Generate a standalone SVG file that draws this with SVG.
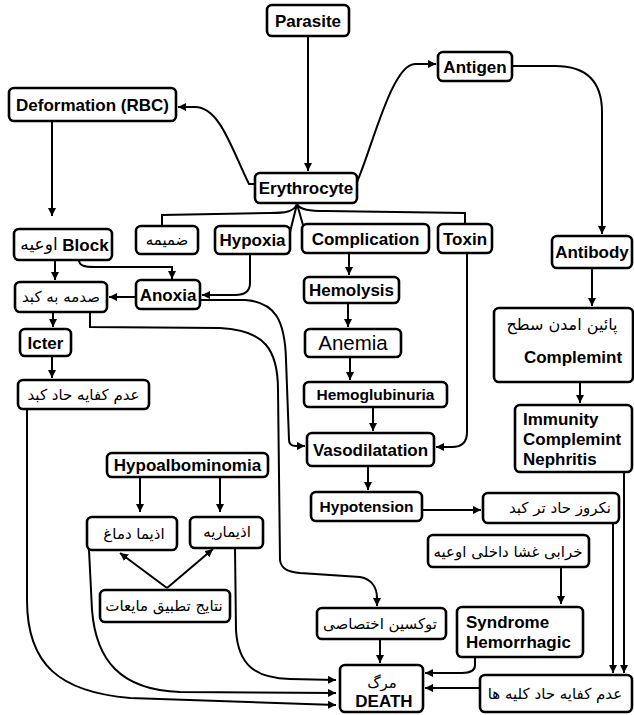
<svg xmlns="http://www.w3.org/2000/svg" width="634" height="715" viewBox="0 0 634 715">
<style>
rect.b{fill:#fff;stroke:#000;stroke-width:2.6}
.t{font-family:"Liberation Sans",Arial,sans-serif;font-weight:bold;font-size:17px;fill:#000;text-anchor:middle}
.s{font-size:15.5px}
.l{text-anchor:start}
.fa{font-family:"DejaVu Sans","Noto Sans",sans-serif;font-size:15px;fill:#000;text-anchor:middle}
.c path{fill:none;stroke:#000;stroke-width:2}
</style>
<defs>
<marker id="a" markerUnits="userSpaceOnUse" markerWidth="9" markerHeight="9" refX="8" refY="4" orient="auto">
<path d="M0,0 L8,4 L0,8 z" fill="#000"/>
</marker>
</defs>
<rect width="634" height="715" fill="#fff"/>
<g class="c">
<path d="M308,36 L308,171" marker-end="url(#a)"/>
<path d="M255,184 L249,184 C232,150 220,107 195,107 L178,107" marker-end="url(#a)"/>
<path d="M357,182 C372,148 392,64 415,64 L436,64" marker-end="url(#a)"/>
<path d="M512,66 L555,66 C590,66 602,85 602,112 L602,234" marker-end="url(#a)"/>
<path d="M52,121 L52,216" marker-end="url(#a)"/>
<path d="M297,204 C294,212 285,213 270,213 L162,215 L162,226"/>
<path d="M297,204 L289,236"/>
<path d="M297,204 L305,232"/>
<path d="M297,204 C300,210 310,211 325,211 L465,213 L465,224"/>
<path d="M55,260 L55,280" marker-end="url(#a)"/>
<path d="M79,260 C79,266 85,267 95,267 L172,267 L172,279" marker-end="url(#a)"/>
<path d="M250,253 L250,283 C250,292 244,295 235,295 L202,295" marker-end="url(#a)"/>
<path d="M136,297 L109,297" marker-end="url(#a)"/>
<path d="M200,300 L245,300 C275,302 285,320 286,360 L289,440 Q289,446 296,446 L305,446" marker-end="url(#a)"/>
<path d="M53,312 L53,327" marker-end="url(#a)"/>
<path d="M90,312 L90,327 L220,328 C265,330 278,350 278,390 L280,560 C281,570 290,572 300,573 L360,577 C372,579 377,588 377,598 L377,606" marker-end="url(#a)"/>
<path d="M52,356 L52,378" marker-end="url(#a)"/>
<path d="M27,409 L27,600 C27,665 60,692 130,698 L336,705" marker-end="url(#a)"/>
<path d="M89,550 L92,610 C96,660 120,690 180,692 L336,693" marker-end="url(#a)"/>
<path d="M235,548 L236,630 C238,665 255,678 290,679 L336,680" marker-end="url(#a)"/>
<path d="M140,477 L140,512" marker-end="url(#a)"/>
<path d="M220,477 L220,512" marker-end="url(#a)"/>
<path d="M167,588 L120,553" marker-end="url(#a)"/>
<path d="M167,588 L213,549" marker-end="url(#a)"/>
<path d="M349,253 L349,275" marker-end="url(#a)"/>
<path d="M348,303 L348,327" marker-end="url(#a)"/>
<path d="M350,357 L350,380" marker-end="url(#a)"/>
<path d="M373,407 L373,431" marker-end="url(#a)"/>
<path d="M467,253 L467,432 C467,442 462,447 452,447 L436,447" marker-end="url(#a)"/>
<path d="M368,466 L368,490" marker-end="url(#a)"/>
<path d="M422,510 L481,510" marker-end="url(#a)"/>
<path d="M613,523 L613,673" marker-end="url(#a)"/>
<path d="M624,472 L624,673" marker-end="url(#a)"/>
<path d="M561,567 L561,604" marker-end="url(#a)"/>
<path d="M475,657 L475,665 C475,671 470,673 462,673 L425,673" marker-end="url(#a)"/>
<path d="M480,688 L425,688" marker-end="url(#a)"/>
<path d="M380,639 L380,663" marker-end="url(#a)"/>
<path d="M592,268 L592,306" marker-end="url(#a)"/>
<path d="M580,382 L580,403" marker-end="url(#a)"/>
</g>
<g id="parasite"><rect class="b" x="267" y="5" width="82" height="31" rx="5"/><text class="t" x="308" y="27">Parasite</text></g>
<g id="deformation"><rect class="b" x="9" y="88" width="167" height="33" rx="5"/><text class="t" x="92.5" y="110.5">Deformation (RBC)</text></g>
<g id="erythrocyte"><rect class="b" x="255" y="173" width="102" height="30" rx="5"/><text class="t" x="306" y="194">Erythrocyte</text></g>
<g id="antigen"><rect class="b" x="438" y="52" width="74" height="29" rx="5"/><text class="t" x="475" y="72.5">Antigen</text></g>
<g id="antibody"><rect class="b" x="552" y="236" width="80" height="32" rx="5"/><text class="t" x="592" y="258">Antibody</text></g>
<g id="zamime"><rect class="b" x="136" y="226" width="62" height="28" rx="5"/><text class="fa" x="167" y="245">ضمیمه</text></g>
<g id="hypoxia"><rect class="b" x="215" y="226" width="75" height="28" rx="5"/><text class="t" x="252.5" y="246">Hypoxia</text></g>
<g id="complication"><rect class="b" x="302" y="224" width="127" height="29" rx="5"/><text class="t" x="365.5" y="244.5">Complication</text></g>
<g id="toxin"><rect class="b" x="438" y="224" width="54" height="29" rx="5"/><text class="t" x="465" y="244.5">Toxin</text></g>
<g id="block"><rect class="b" x="14" y="229" width="98" height="31" rx="5"/><text class="fa" x="39" y="250" style="font-size:17px">اوعیه</text><text class="t" x="85.5" y="251">Block</text></g>
<g id="sadame"><rect class="b" x="15" y="282" width="92" height="30" rx="5"/><text class="fa" x="61" y="302">صدمه به کبد</text></g>
<g id="anoxia"><rect class="b" x="136" y="280" width="64" height="29" rx="5"/><text class="t" x="168" y="300.5">Anoxia</text></g>
<g id="icter"><rect class="b" x="20" y="329" width="51" height="27" rx="5"/><text class="t" x="45.5" y="348.5">Icter</text></g>
<g id="liverfail"><rect class="b" x="18" y="380" width="131" height="29" rx="5"/><text class="fa" x="83.5" y="400">عدم کفایه حاد کبد</text></g>
<g id="hemolysis"><rect class="b" x="304" y="277" width="95" height="26" rx="5"/><text class="t" x="351.5" y="296">Hemolysis</text></g>
<g id="anemia"><rect class="b" x="305" y="329" width="96" height="28" rx="5"/><text class="t" x="353" y="350" style="font-weight:normal;font-size:20.5px">Anemia</text></g>
<g id="hemoglubinuria"><rect class="b" x="304" y="382" width="143" height="25" rx="5"/><text class="t s" x="375.5" y="400">Hemoglubinuria</text></g>
<g id="vasodilatation"><rect class="b" x="307" y="433" width="127" height="33" rx="5"/><text class="t" x="370.5" y="455.5">Vasodilatation</text></g>
<g id="complement"><rect class="b" x="494" y="308" width="139" height="74" rx="5"/><text class="fa" x="562" y="330" style="font-size:16px">پائین امدن سطح</text><text class="t" x="573" y="363">Complemint</text></g>
<g id="immunity"><rect class="b" x="515" y="405" width="117" height="67" rx="5"/><text class="t l" x="523" y="425">Immunity</text><text class="t l" x="523" y="445">Complemint</text><text class="t l" x="523" y="465">Nephritis</text></g>
<g id="hypotension"><rect class="b" x="311" y="492" width="111" height="29" rx="5"/><text class="t s" x="366.5" y="512">Hypotension</text></g>
<g id="necrosis"><rect class="b" x="483" y="493" width="136" height="30" rx="5"/><text class="fa" x="560" y="513">نکروز حاد تر کبد</text></g>
<g id="endothelium"><rect class="b" x="428" y="535" width="161" height="32" rx="5"/><text class="fa" x="508" y="557">خرابی غشا داخلی اوعیه</text></g>
<g id="syndrome"><rect class="b" x="457" y="607" width="126" height="50" rx="5"/><text class="t l" x="466" y="628">Syndrome</text><text class="t l" x="466" y="648">Hemorrhagic</text></g>
<g id="toxinspec"><rect class="b" x="317" y="608" width="129" height="31" rx="5"/><text class="fa" x="380" y="629">توکسین اختصاصی</text></g>
<g id="death"><rect class="b" x="340" y="665" width="83" height="47" rx="5"/><text class="fa" x="382" y="688">مرگ</text><text class="t" x="384" y="707">DEATH</text></g>
<g id="kidneyfail"><rect class="b" x="480" y="675" width="152" height="37" rx="5"/><text class="fa" x="555" y="699">عدم کفایه حاد کلیه ها</text></g>
<g id="hypoalb"><rect class="b" x="107" y="453" width="161" height="24" rx="5"/><text class="t" x="187.5" y="471">Hypoalbominomia</text></g>
<g id="brainedema"><rect class="b" x="87" y="517" width="90" height="33" rx="5"/><text class="fa" x="134" y="539">اذیما دماغ</text></g>
<g id="lungedema"><rect class="b" x="190" y="517" width="73" height="31" rx="5"/><text class="fa" x="227" y="537">اذیماریه</text></g>
<g id="fluids"><rect class="b" x="100" y="590" width="130" height="32" rx="5"/><text class="fa" x="164" y="611">نتایج تطبیق مایعات</text></g>
</svg>
